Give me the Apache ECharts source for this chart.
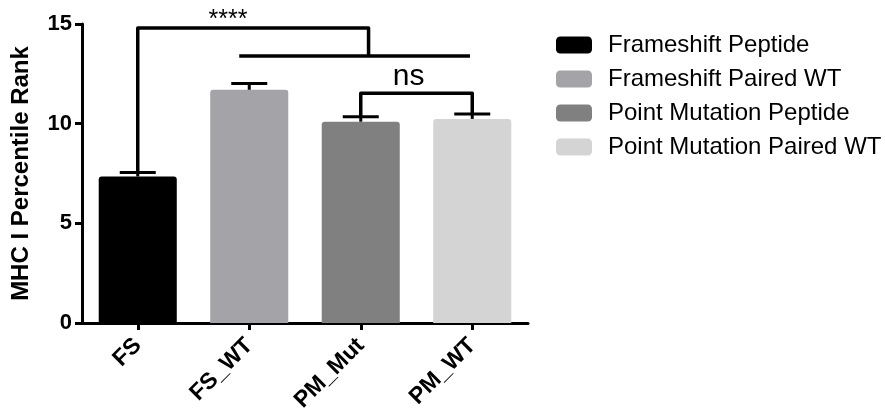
<!DOCTYPE html>
<html>
<head>
<meta charset="utf-8">
<script src="https://cdn.jsdelivr.net/npm/echarts@6/dist/echarts.min.js"></script>
<style>
  html, body { margin: 0; padding: 0; background: #fff; }
  #chart { width: 885px; height: 409px; }
</style>
</head>
<body>
<div id="chart"></div>
<script>
// Group labels along the x axis
const categories = ['FS', 'FS_WT', 'PM_Mut', 'PM_WT'];
// Legend names, one per group
const seriesNames = ['Frameshift Peptide', 'Frameshift Paired WT', 'Point Mutation Peptide', 'Point Mutation Paired WT'];
// Mean MHC I percentile rank per group
const means = [7.35, 11.7, 10.1, 10.24];
// Upper error (SEM) per group
const errors = [0.2, 0.32, 0.25, 0.25];
// Y axis ticks
const yTicks = [0, 5, 10, 15];
// Significance brackets: points as [category index, value]
const bracketStars = [[0, 7.55], [0, 14.8], [2.07, 14.8], [2.07, 13.4]];
const bracketGroup = [[0.91, 13.4], [2.98, 13.4]];
const bracketNs = [[2, 10.35], [2, 11.52], [3, 11.52], [3, 10.49]];
// Significance labels: [category index, value, text]
const sigLabels = [[0.81, 15.2, '****'], [2.43, 12.33, 'ns']];

const colors = ['#000000', '#a3a3a8', '#808080', '#d4d4d4'];
const FONT = '"Liberation Sans", Arial, Helvetica, sans-serif';

const chart = echarts.init(document.getElementById('chart'));

const barSeries = seriesNames.map((name, k) => ({
  name: name,
  type: 'bar',
  barWidth: '70%',
  barGap: '-100%',
  itemStyle: { color: colors[k], borderRadius: [3, 3, 0, 0] },
  data: categories.map((c, i) => (i === k ? means[i] : '-')),
  z: 2
}));

// Map a fractional category index and a value to pixels
function toPixel(api, p) {
  const base = api.coord([0, p[1]]);
  const band = api.size([1, 0])[0];
  return [base[0] + p[0] * band, base[1]];
}

const errorSeries = {
  type: 'custom',
  name: 'error',
  z: 5,
  clip: false,
  data: means.map((m, i) => [i, m, errors[i]]),
  renderItem: function (params, api) {
    const i = api.value(0);
    const top = api.coord([i, api.value(1)]);
    const cap = api.coord([i, api.value(1) + api.value(2)]);
    const half = 18;
    const style = { stroke: '#000', lineWidth: 3, fill: null };
    return {
      type: 'group',
      children: [
        { type: 'line', shape: { x1: top[0], y1: top[1], x2: cap[0], y2: cap[1] }, style: style },
        { type: 'line', shape: { x1: cap[0] - half, y1: cap[1], x2: cap[0] + half, y2: cap[1] }, style: style }
      ]
    };
  }
};

const bracketSets = [bracketStars, bracketGroup, bracketNs];
const annotationSeries = {
  type: 'custom',
  name: 'annotations',
  z: 6,
  clip: false,
  silent: true,
  data: [0],
  renderItem: function (params, api) {
    const children = bracketSets.map(pts => ({
      type: 'polyline',
      shape: { points: pts.map(p => toPixel(api, p)) },
      style: { stroke: '#000', lineWidth: 3.5, fill: null, lineJoin: 'round' }
    }));
    sigLabels.forEach(l => {
      const xy = toPixel(api, [l[0], l[1]]);
      children.push({
        type: 'text',
        x: xy[0], y: xy[1],
        style: {
          text: l[2],
          fontFamily: FONT,
          fontSize: l[2] === 'ns' ? 30 : 25,
          fill: '#000',
          align: 'center',
          verticalAlign: 'middle'
        }
      });
    });
    return { type: 'group', children: children };
  }
};

chart.setOption({
  animation: false,
  backgroundColor: '#fff',
  grid: { left: 82, right: 357, top: 24, bottom: 86, containLabel: false, outerBoundsMode: 'none' },
  legend: {
    data: seriesNames,
    orient: 'vertical',
    left: 556,
    top: 33,
    padding: 0,
    itemWidth: 36,
    itemHeight: 17,
    itemGap: 10,
    icon: 'roundRect',
    selectedMode: false,
    textStyle: {
      fontFamily: FONT,
      fontSize: 24,
      color: '#000',
      lineHeight: 22,
      padding: [0, 0, 0, 11]
    }
  },
  xAxis: {
    type: 'category',
    data: categories,
    axisLine: { show: true, lineStyle: { color: '#000', width: 3 } },
    axisTick: { show: true, alignWithLabel: true, length: 7, lineStyle: { color: '#000', width: 3 } },
    axisLabel: {
      rotate: 45,
      margin: 19,
      fontFamily: FONT,
      fontSize: 23,
      fontWeight: 'bold',
      color: '#000'
    },
    splitLine: { show: false }
  },
  yAxis: {
    type: 'value',
    min: yTicks[0],
    max: yTicks[yTicks.length - 1],
    interval: yTicks[1] - yTicks[0],
    name: 'MHC I Percentile Rank',
    nameLocation: 'middle',
    nameGap: 49,
    nameTextStyle: { fontFamily: FONT, fontSize: 24, fontWeight: 'bold', color: '#000' },
    axisLine: { show: true, lineStyle: { color: '#000', width: 3 } },
    axisTick: { show: true, length: 7, lineStyle: { color: '#000', width: 3 } },
    axisLabel: { margin: 10, fontFamily: FONT, fontSize: 22, fontWeight: 'bold', color: '#000' },
    splitLine: { show: false }
  },
  series: barSeries.concat([errorSeries, annotationSeries])
});
</script>
</body>
</html>
